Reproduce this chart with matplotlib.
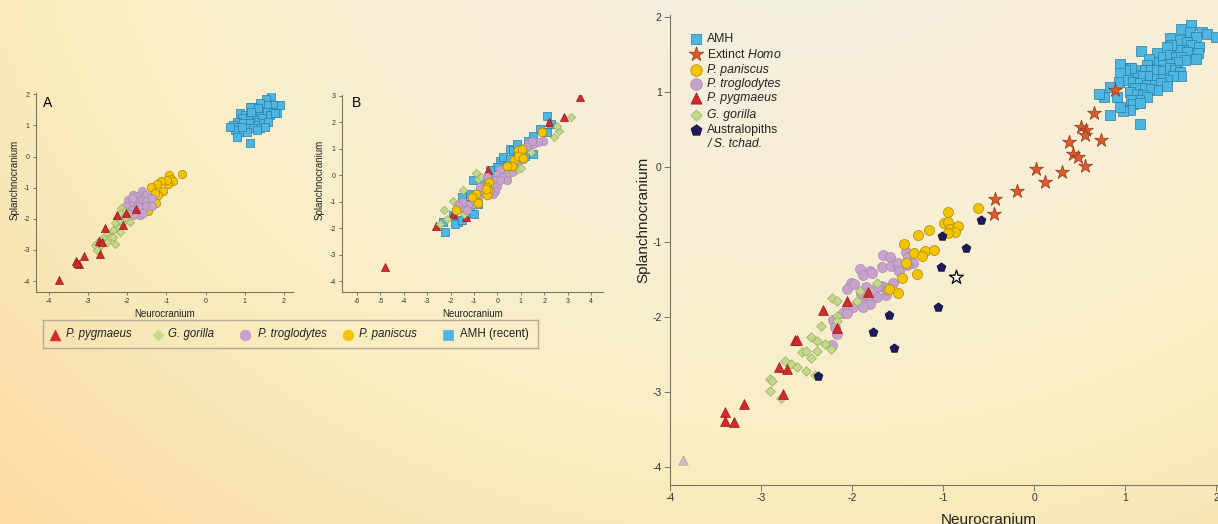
import numpy as np
import matplotlib.pyplot as plt
from matplotlib.colors import to_rgb

plt.rcParams['font.family'] = ['Liberation Sans', 'DejaVu Sans']
plt.rcParams['mathtext.fontset'] = 'custom'
plt.rcParams['mathtext.rm'] = 'Liberation Sans'
plt.rcParams['mathtext.it'] = 'Liberation Sans:italic'
plt.rcParams['axes.unicode_minus'] = False

# ---------------- panel A (shape PCA, recent taxa) ----------------
a_amh_x = [1.66, 1.53, 1.90, 1.73, 1.56, 1.39, 1.22, 1.13, 0.88, 1.00, 1.13, 1.26, 1.39, 1.56, 1.73,
           1.81, 1.64, 1.43, 1.26, 1.09, 0.92, 0.79, 0.71, 0.83, 0.96, 1.13, 1.30, 1.47, 1.60, 1.05,
           1.22, 1.39, 0.88, 0.75, 0.62, 1.05, 0.79, 1.13, 1.77, 1.34, 1.17, 1.51, 1.30, 0.92]
a_amh_y = [1.93, 1.84, 1.66, 1.66, 1.66, 1.71, 1.60, 1.60, 1.39, 1.34, 1.28, 1.28, 1.44, 1.44, 1.44,
           1.39, 1.34, 1.23, 1.12, 1.18, 1.23, 1.12, 1.02, 0.96, 1.07, 1.07, 1.02, 1.07, 1.12, 0.91,
           0.91, 0.91, 0.80, 0.86, 0.96, 0.80, 0.64, 0.43, 1.39, 1.55, 1.44, 0.96, 0.86, 0.96]
a_pan_x = [-0.61, -0.93, -0.89, -0.84, -0.95, -0.99, -1.14, -1.25, -1.08, -1.21, -1.40, -1.40,
           -1.27, -1.42, -1.57, -1.46, -1.29]
a_pan_y = [-0.57, -0.59, -0.73, -0.80, -0.89, -0.75, -0.80, -0.88, -1.12, -1.23, -0.98, -1.31,
           -1.50, -1.55, -1.66, -1.76, -1.18]
a_tro_x = [-1.85, -1.76, -1.63, -1.51, -1.97, -1.89, -1.76, -1.63, -1.51, -1.38, -2.02, -1.89,
           -1.76, -1.63, -1.51, -1.68, -1.85, -1.97, -1.38, -1.59, -1.89, -1.72, -2.19, -2.06]
a_tro_y = [-1.23, -1.28, -1.12, -1.23, -1.39, -1.55, -1.44, -1.39, -1.44, -1.34, -1.60, -1.71,
           -1.76, -1.66, -1.60, -1.87, -1.87, -1.82, -1.60, -1.82, -1.34, -1.60, -1.87, -1.98]
a_gor_x = [-2.17, -2.06, -2.19, -1.97, -2.06, -2.27, -2.10, -2.23, -2.31, -2.19, -2.36, -2.49,
           -2.44, -2.61, -2.70, -2.53, -2.31, -2.83, -2.78, -2.66, -2.36, -1.93]
a_gor_y = [-1.66, -1.76, -1.82, -1.93, -2.03, -1.98, -2.14, -2.25, -2.14, -2.41, -2.35, -2.46,
           -2.57, -2.62, -2.67, -2.73, -2.80, -2.83, -3.00, -2.83, -2.57, -2.09]
a_pyg_x = [-3.75, -3.32, -3.23, -3.29, -3.11, -2.70, -2.72, -2.64, -2.57, -2.27, -2.12, -2.02, -1.78]
a_pyg_y = [-3.96, -3.35, -3.45, -3.42, -3.21, -3.12, -2.70, -2.75, -2.30, -1.87, -2.19, -1.80, -1.69]

# ---------------- panel B ----------------
b_amh_x = [2.13, 2.28, 1.82, 2.10, 1.53, 1.32, 0.54, 0.68, 0.97, 0.82, 1.18, 0.11, 0.25, 0.40,
           -0.03, 0.18, -0.10, -0.32, -0.53, -0.67, -1.03, -0.74, -0.96, -1.10, -1.31, -1.53,
           -1.17, -1.39, -1.00, -1.67, -1.81, -1.53, -2.24, -2.31, -1.88, -0.82, -1.17, -1.60,
           0.82, 0.54, 1.53]
b_amh_y = [2.23, 1.93, 1.74, 1.61, 1.49, 1.30, 0.99, 0.93, 0.93, 0.74, 0.74, 0.55, 0.68, 0.36,
           0.30, 0.11, -0.01, 0.18, -0.14, -0.33, -0.20, -0.58, -0.76, -0.95, -1.08, -0.83,
           -1.33, -1.51, -1.48, -1.76, -1.83, -1.70, -2.14, -1.76, -1.51, -1.08, -0.70, -1.14,
           1.18, 0.61, 0.80]
b_pyg_x = [3.53, 2.85, 2.22, -2.62, -1.91, -1.36, -0.39, 0.71, -1.21, -4.79]
b_pyg_y = [2.93, 2.18, 2.01, -1.93, -1.45, -1.58, 0.18, 0.40, -1.05, -3.45]
b_gor_x = [3.14, 2.65, 2.53, 2.42, 1.42, 0.82, 0.99, 0.51, 0.37, -0.92, -0.82, -0.70, -1.49,
           -1.88, -2.27, -2.17, -2.45, -1.41]
b_gor_y = [2.20, 1.68, 1.86, 1.45, 0.86, 0.18, 0.28, 0.05, 0.18, 0.08, -0.14, -0.05, -0.54,
           -0.99, -1.30, -1.64, -1.83, -1.45]
b_tro_x = [1.96, 1.75, 1.53, 1.32, 1.22, 1.04, 0.82, 0.75, 0.54, 0.25, 0.11, -0.03, -0.10,
           -0.03, -0.10, -0.17, -0.32, -0.53, -0.67, -0.74, -0.82, -1.03, -1.24, -1.46, -1.53,
           -1.67, -1.31, 0.25, 0.40, 0.61, 0.89, 1.11, -0.43, 0.11, 1.46]
b_tro_y = [1.30, 1.24, 1.18, 1.18, 1.05, 0.80, 0.68, 0.49, 0.36, 0.24, 0.18, -0.01, -0.20,
           -0.39, -0.58, -0.70, -0.58, -0.45, -0.58, -0.45, -0.83, -1.08, -1.14, -1.20, -1.01,
           -1.14, -1.33, -0.08, -0.20, 0.11, 0.55, 0.61, -0.08, -0.20, 1.30]
b_pan_x = [1.92, 0.87, 1.04, 0.72, 0.89, 1.11, 0.61, 0.40, -0.36, -0.43, -0.39, -0.46, -0.50,
           -0.92, -1.07, -0.82, -1.77]
b_pan_y = [1.62, 0.93, 0.99, 0.59, 0.74, 0.65, 0.36, 0.36, -0.26, -0.43, -0.57, -0.76, -0.51,
           -0.70, -0.83, -1.05, -1.33]

# ---------------- big panel (with fossils) ----------------
c_amh_x = [1.72, 1.62, 1.71, 1.85, 1.90, 2.00, 1.78, 1.49, 1.60, 1.68, 1.73, 1.81, 1.64, 1.59,
           1.68, 1.51, 1.46, 1.35, 1.18, 1.42, 1.49, 1.56, 1.62, 1.80, 1.78, 1.66, 1.57, 1.48,
           1.40, 1.31, 1.26, 1.24, 1.16, 1.22, 1.29, 1.35, 1.42, 1.49, 1.55, 1.60, 1.62, 1.53,
           1.46, 1.38, 1.31, 1.24, 1.16, 1.09, 1.04, 1.07, 1.00, 0.94, 0.94, 0.93, 1.03, 1.09,
           1.16, 1.24, 1.33, 1.40, 1.46, 1.35, 1.26, 1.18, 1.11, 1.05, 1.13, 1.20, 1.24, 1.15,
           1.07, 1.09, 1.16, 1.05, 0.98, 0.94, 0.91, 0.83, 0.77, 0.71, 0.83, 1.17]
c_amh_y = [1.90, 1.84, 1.80, 1.80, 1.78, 1.74, 1.74, 1.72, 1.70, 1.67, 1.63, 1.60, 1.56, 1.56,
           1.54, 1.63, 1.60, 1.52, 1.55, 1.47, 1.49, 1.47, 1.47, 1.52, 1.44, 1.43, 1.40, 1.38,
           1.36, 1.40, 1.44, 1.36, 1.29, 1.29, 1.29, 1.29, 1.28, 1.32, 1.29, 1.27, 1.21, 1.21,
           1.16, 1.18, 1.18, 1.21, 1.21, 1.23, 1.32, 1.32, 1.30, 1.37, 1.26, 1.14, 1.16, 1.14,
           1.12, 1.09, 1.09, 1.12, 1.08, 1.03, 1.04, 1.05, 1.06, 1.00, 0.98, 0.96, 0.94, 0.89,
           0.89, 0.84, 0.85, 0.76, 0.75, 0.80, 0.94, 1.07, 0.94, 0.98, 0.69, 0.57]
c_homo_x = [0.89, 0.66, 0.52, 0.57, 0.56, 0.74, 0.38, 0.43, 0.48, 0.56, 0.02, 0.31, 0.12, -0.19,
            -0.43, -0.44]
c_homo_y = [1.03, 0.72, 0.54, 0.49, 0.43, 0.36, 0.33, 0.17, 0.14, 0.02, -0.03, -0.07, -0.20, -0.32,
            -0.43, -0.62]
c_pan_x = [-0.94, -0.62, -1.15, -1.28, -0.99, -0.95, -0.92, -0.84, -0.87, -0.95, -1.43, -1.32,
           -1.20, -1.10, -1.23, -1.41, -1.29, -1.45, -1.59, -1.50]
c_pan_y = [-0.60, -0.54, -0.84, -0.91, -0.74, -0.73, -0.82, -0.79, -0.86, -0.88, -1.03, -1.15,
           -1.12, -1.10, -1.19, -1.28, -1.43, -1.48, -1.62, -1.68]
c_tro_x = [-1.66, -1.58, -1.67, -1.57, -1.50, -1.49, -1.48, -1.41, -1.39, -1.33, -1.91, -1.80,
           -1.88, -2.01, -2.05, -1.98, -1.85, -1.68, -1.63, -1.78, -1.40, -1.90, -1.83, -1.88,
           -1.80, -1.73, -1.81, -1.88, -2.06, -1.99, -2.10, -2.05, -2.21, -2.19, -2.17, -2.22,
           -1.65, -1.62, -1.55, -1.73]
c_tro_y = [-1.17, -1.20, -1.33, -1.32, -1.32, -1.28, -1.38, -1.13, -1.20, -1.28, -1.36, -1.38,
           -1.44, -1.55, -1.62, -1.56, -1.60, -1.59, -1.71, -1.41, -1.31, -1.68, -1.77, -1.82,
           -1.82, -1.73, -1.71, -1.86, -1.86, -1.86, -1.95, -1.95, -2.04, -2.13, -2.23, -2.37,
           -1.60, -1.64, -1.55, -1.60]
c_pyg_x = [-3.40, -3.40, -3.30, -3.19, -2.76, -2.80, -2.71, -2.63, -2.60, -2.32, -2.16, -2.05, -1.82]
c_pyg_y = [-3.27, -3.38, -3.40, -3.16, -3.02, -2.66, -2.69, -2.30, -2.31, -1.90, -2.14, -1.79, -1.66]
c_gor_x = [-2.90, -2.88, -2.90, -2.78, -2.74, -2.67, -2.60, -2.55, -2.51, -2.51, -2.45, -2.45,
           -2.39, -2.38, -2.34, -2.30, -2.23, -2.22, -2.17, -2.17, -2.16, -1.95, -1.91, -1.73, -2.41]
c_gor_y = [-2.82, -2.85, -2.99, -3.08, -2.58, -2.62, -2.66, -2.47, -2.45, -2.72, -2.55, -2.27,
           -2.32, -2.45, -2.12, -2.36, -2.43, -1.74, -1.79, -1.99, -2.05, -1.78, -1.65, -1.54, -2.77]
c_aus_x = [-0.58, -1.01, -0.75, -1.02, -1.06, -1.59, -1.77, -1.54, -2.37]
c_aus_y = [-0.70, -0.92, -1.08, -1.33, -1.87, -1.97, -2.20, -2.41, -2.78]
c_tchad_x = [-0.86]
c_tchad_y = [-1.46]
c_grey_x = [-3.86]
c_grey_y = [-3.91]

# colours
AMH = ('#4db6e2', '#2b7ca3')
HOMO = ('#dc5a2e', '#8b3a1c')
PAN = ('#f4c400', '#a98700')
TRO = ('#c6a2cc', '#a78aae')
PYG = ('#d62a2a', '#8e1a1a')
GOR = ('#c4d98a', '#98ad63')
AUS = ('#1d1a5c', '#0b0a30')
SPINE = '#7d7563'

W, H = 1218, 524
fig = plt.figure(figsize=(W / 100, H / 100), dpi=100)

# soft radial poster background
bg = fig.add_axes([0, 0, 1, 1], zorder=-10)
yy, xx = np.mgrid[0:H, 0:W]
d = np.hypot(xx - 800, (yy + 120) * 1.25)
stops = [0, 250, 480, 680, 850, 1000, 1200]
cols = ['#edf0df', '#f6efdc', '#f8eed3', '#faefc5', '#f8e9b9', '#fbe0ae', '#fdd8a0']
rgb = np.array([to_rgb(c) for c in cols])
img = np.dstack([np.interp(d, stops, rgb[:, k]) for k in range(3)])
bg.imshow(img, aspect='auto', extent=[0, W, H, 0])
bg.axis('off')


def fx(px):
    return px / W


def fy(py):
    return 1 - py / H


def style(ax, size, tlen):
    ax.set_facecolor('none')
    for s in ['top', 'right']:
        ax.spines[s].set_visible(False)
    for s in ['left', 'bottom']:
        ax.spines[s].set_color(SPINE)
        ax.spines[s].set_linewidth(0.8)
    ax.tick_params(direction='out', length=tlen, width=0.7, color=SPINE,
                   labelsize=size, labelcolor='#333333', pad=2)


def sc(ax, x, y, m, c, s, lw=0.5, z=3):
    ax.scatter(x, y, marker=m, s=s, facecolor=c[0], edgecolor=c[1], linewidths=lw, zorder=z)


# ---- panel A ----
axA = fig.add_axes([fx(36), fy(292), fx(257), (292 - 93) / H])
style(axA, 5, 2.5)
sc(axA, a_amh_x, a_amh_y, 's', AMH, 30)
sc(axA, a_pan_x, a_pan_y, 'o', PAN, 36)
sc(axA, a_tro_x, a_tro_y, 'o', TRO, 36)
sc(axA, a_gor_x, a_gor_y, 'D', GOR, 18)
sc(axA, a_pyg_x, a_pyg_y, '^', PYG, 34)
axA.set_xlim(-4.33, 2.23)
axA.set_ylim(-4.35, 2.04)
axA.set_xticks(range(-4, 3))
axA.set_yticks(range(-4, 3))
axA.set_xlabel('Neurocranium', fontsize=7, labelpad=3, color='#222222')
axA.set_ylabel('Splanchnocranium', fontsize=7, color='#222222')
axA.yaxis.set_label_coords(-0.065, 0.563)
axA.text(0.027, 0.985, 'A', transform=axA.transAxes, fontsize=10, va='top', ha='left')

# ---- panel B ----
axB = fig.add_axes([fx(342), fy(292), fx(261), (292 - 95) / H])
style(axB, 5, 2.5)
sc(axB, b_amh_x, b_amh_y, 's', AMH, 30)
sc(axB, b_pyg_x, b_pyg_y, '^', PYG, 34)
sc(axB, b_gor_x, b_gor_y, 'D', GOR, 18)
sc(axB, b_tro_x, b_tro_y, 'o', TRO, 36)
sc(axB, b_pan_x, b_pan_y, 'o', PAN, 40)
axB.set_xlim(-6.64, 4.51)
axB.set_ylim(-4.40, 3.02)
axB.set_xticks(range(-6, 5))
axB.set_yticks(range(-4, 4))
axB.set_xlabel('Neurocranium', fontsize=7, labelpad=3, color='#222222')
axB.set_ylabel('Splanchnocranium', fontsize=7, color='#222222')
axB.yaxis.set_label_coords(-0.065, 0.57)
axB.text(0.038, 0.995, 'B', transform=axB.transAxes, fontsize=10, va='top', ha='left')

# ---- shared legend for A and B ----
lg = fig.add_axes([fx(43), fy(348), fx(495), 28 / H])
lg.set_xlim(0, 495)
lg.set_ylim(28, 0)
lg.set_xticks([])
lg.set_yticks([])
lg.set_facecolor('none')
for s in lg.spines.values():
    s.set_color('#b3ab95')
    s.set_linewidth(1)
bottom_items = [('^', PYG, 60, 'P. pygmaeus', 'italic', 12, 23),
                ('D', GOR, 30, 'G. gorilla', 'italic', 115, 125),
                ('o', TRO, 60, 'P. troglodytes', 'italic', 202, 215),
                ('o', PAN, 60, 'P. paniscus', 'italic', 305, 316),
                ('s', AMH, 45, 'AMH (recent)', 'normal', 405, 417)]
for m, c, s, lab, st, xm, xt in bottom_items:
    lg.scatter([xm], [14.5], marker=m, s=s, facecolor=c[0], edgecolor=c[0], linewidths=0.5)
    lg.text(xt, 14.5, lab, fontsize=8.3, style=st, va='center', ha='left', color='#222222')

# ---- big panel ----
axC = fig.add_axes([fx(670), fy(485), fx(637), (485 - 15) / H])
style(axC, 7.5, 4)
sc(axC, c_amh_x, c_amh_y, 's', AMH, 42)
sc(axC, c_homo_x, c_homo_y, '*', HOMO, 110)
sc(axC, c_tro_x, c_tro_y, 'o', TRO, 52)
sc(axC, c_gor_x, c_gor_y, 'D', GOR, 24)
sc(axC, c_pan_x, c_pan_y, 'o', PAN, 52)
sc(axC, c_pyg_x, c_pyg_y, '^', PYG, 50)
sc(axC, c_aus_x, c_aus_y, 'p', AUS, 45)
sc(axC, c_grey_x, c_grey_y, '^', ('#cbbfc3', '#a89ca2'), 45)
sc(axC, c_tchad_x, c_tchad_y, '*', ('white', 'black'), 110, lw=0.9)
axC.set_xlim(-4, 3)
axC.set_ylim(-4.24, 2.03)
axC.set_xticks(range(-4, 4))
axC.set_yticks(range(-4, 3))
axC.set_xlabel('Neurocranium', fontsize=11, labelpad=7, color='#222222')
axC.set_ylabel('Splanchnocranium', fontsize=11, color='#222222')
axC.yaxis.set_label_coords(-0.031, 0.564)

# legend of the big panel, in axes fraction
leg_items = [('s', AMH, 50, 'AMH', 'normal', 0.949),
             ('*', HOMO, 120, r'Extinct $\mathit{Homo}$', 'normal', 0.917),
             ('o', PAN, 70, 'P. paniscus', 'italic', 0.883),
             ('o', TRO, 70, 'P. troglodytes', 'italic', 0.853),
             ('^', PYG, 65, 'P. pygmaeus', 'italic', 0.823),
             ('D', GOR, 32, 'G. gorilla', 'italic', 0.787),
             ('p', AUS, 70, 'Australopiths', 'normal', 0.755)]
for m, c, s, lab, st, yv in leg_items:
    axC.scatter([0.0414], [yv], marker=m, s=s, facecolor=c[0], edgecolor=c[1], linewidths=0.5,
                transform=axC.transAxes, clip_on=False)
    axC.text(0.0585, yv, lab, fontsize=8.8, style=st, va='center', ha='left', color='#222222',
             transform=axC.transAxes)
axC.text(0.0585, 0.726, '/ S. tchad.', fontsize=8.8, style='italic', va='center', ha='left',
         color='#222222', transform=axC.transAxes)

fig.savefig('out.png', dpi=100)
